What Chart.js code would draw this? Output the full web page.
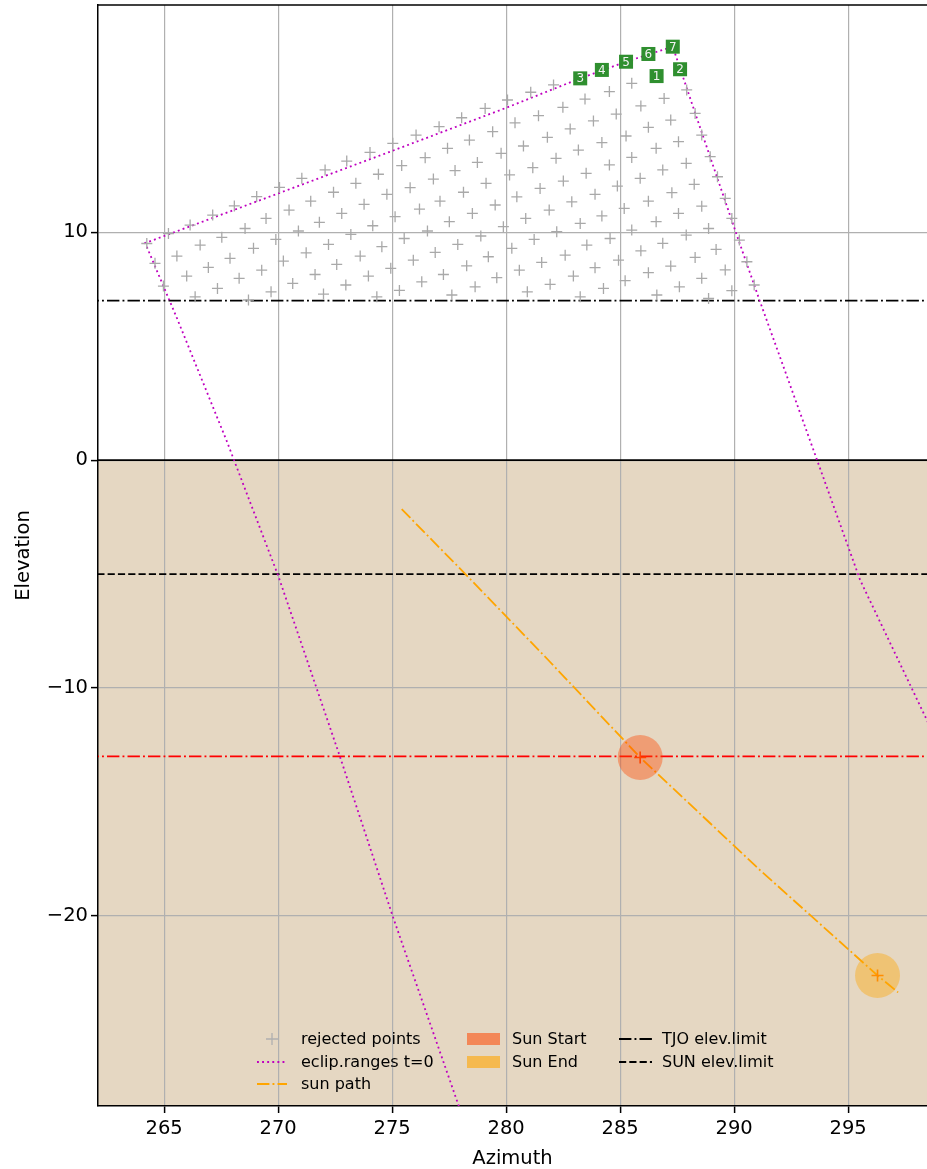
<!DOCTYPE html>
<html>
<head>
<meta charset="utf-8">
<script src="https://cdn.jsdelivr.net/npm/chart.js@4.4.0/dist/chart.umd.min.js"></script>
<style>
html, body { margin: 0; padding: 0; background: #fff; overflow: hidden; }
#wrap { position: relative; width: 927px; height: 1169px; }
#legend { position: absolute; left: 0; top: 0; font-family: 'DejaVu Sans'; font-size: 16px; color: #000; }
#legend .t { position: absolute; height: 20px; line-height: 20px; white-space: nowrap; }
#legend svg, #legend .p { position: absolute; }
</style>
</head>
<body>
<div id="wrap">
<canvas id="sky" width="927" height="1169"></canvas>
<div id="legend">
  <svg style="left:256px;top:1032px" width="32" height="14"><path d="M16 1V13M10 7H22" stroke="#b0b0b0" stroke-width="1.3" fill="none"/></svg>
  <div class="t" style="left:301px;top:1029px">rejected points</div>
  <svg style="left:256px;top:1055px" width="32" height="14"><line x1="1" y1="7" x2="31" y2="7" stroke="#bf00bf" stroke-width="1.8" stroke-dasharray="1.9 3.2"/></svg>
  <div class="t" style="left:301px;top:1052px">eclip.ranges t=0</div>
  <svg style="left:256px;top:1077px" width="32" height="14"><line x1="1" y1="7" x2="31" y2="7" stroke="orange" stroke-width="1.8" stroke-dasharray="12.4 3.1 1.9 3.1"/></svg>
  <div class="t" style="left:301px;top:1074px">sun path</div>

  <div class="p" style="left:467px;top:1033px;width:33px;height:12px;background:rgba(255,69,0,0.55)"></div>
  <div class="t" style="left:512px;top:1029px">Sun Start</div>
  <div class="p" style="left:467px;top:1056px;width:33px;height:12px;background:rgba(255,165,0,0.6)"></div>
  <div class="t" style="left:512px;top:1052px">Sun End</div>

  <svg style="left:619px;top:1032px" width="33" height="14"><line x1="0" y1="7" x2="33" y2="7" stroke="#000" stroke-width="1.8" stroke-dasharray="12.4 3.1 1.9 3.1"/></svg>
  <div class="t" style="left:662px;top:1029px">TJO elev.limit</div>
  <svg style="left:619px;top:1055px" width="33" height="14"><line x1="0" y1="7" x2="33" y2="7" stroke="#000" stroke-width="1.8" stroke-dasharray="7.2 3.1"/></svg>
  <div class="t" style="left:662px;top:1052px">SUN elev.limit</div>
</div>
</div>
<script>
// axis limits
const azMin = 262.1, azMax = 298.46;
const elMin = -28.35, elMax = 19.98;

// elevation limits
const horizonEl = 0;
const tjoLimit = 7;
const sunLimit = -5;
const sunStartLine = -13;

// rejected points (azimuth, elevation)
const rejAz = [
  264.24,265.19,266.14,267.13,268.08,269.06,270.06,271.04,272.06,273.01,
  264.60,265.56,266.58,267.53,268.55,269.47,270.48,271.43,272.43,273.41,
  264.97,265.99,266.94,267.89,268.92,269.90,270.89,271.81,272.79,273.77,
  266.36,267.34,268.29,269.28,270.23,271.23,272.21,273.19,
  268.70,269.69,270.64,271.62,272.57,273.60,
  271.99,272.97,273.96,
  274.03,275.03,276.05,277.06,278.05,279.08,280.06,281.08,282.08,
  274.40,275.42,276.45,277.43,278.39,279.41,280.39,281.42,282.49,283.46,
  274.77,275.79,276.81,277.76,278.74,279.78,280.76,281.81,282.81,
  274.15,275.13,276.20,277.10,278.13,279.12,280.15,281.17,282.19,283.17,
  274.55,275.53,276.55,277.51,278.52,279.52,280.47,281.49,282.51,283.51,
  274.94,275.93,276.89,277.88,278.89,279.88,280.86,281.89,282.88,
  274.33,275.32,276.30,277.25,278.27,279.22,280.25,281.23,282.22,283.25,
  277.62,278.64,279.59,280.58,281.56,282.59,283.54,
  280.93,281.93,282.95,
  283.25,
  284.53,285.51,285.91,286.93,283.83,284.83,286.24,287.22,284.20,285.26,
  286.58,287.56,284.53,285.51,286.87,287.90,283.90,284.88,285.88,287.27,
  288.25,284.20,285.18,286.24,287.56,288.58,284.56,285.51,286.58,287.90,
  288.88,284.93,285.91,286.87,288.29,289.21,283.90,285.22,286.24,287.22,
  288.58,289.61,284.27,286.61,287.60,288.88,289.90,
  287.92,288.29,288.58,288.95,289.27,289.61,289.90,290.23,290.56,290.88
];
const rejEl = [
  9.51,9.95,10.32,10.76,11.16,11.57,11.97,12.37,12.74,13.13,
  8.64,8.96,9.44,9.78,10.17,10.61,10.98,11.37,11.76,12.15,
  7.64,8.08,8.46,8.86,9.30,9.69,10.06,10.44,10.83,11.23,
  7.17,7.54,7.98,8.34,8.74,9.10,9.47,9.91,
  7.03,7.39,7.76,8.15,8.59,8.96,
  7.29,7.69,8.08,
  13.51,13.91,14.27,14.64,15.03,15.44,15.81,16.15,16.47,
  12.55,12.93,13.28,13.69,14.05,14.42,14.81,15.12,15.49,15.85,
  11.67,11.96,12.34,12.71,13.07,13.47,13.79,14.17,14.54,
  10.29,10.69,11.02,11.37,11.76,12.15,12.52,12.84,13.25,13.61,
  9.37,9.73,10.06,10.47,10.83,11.20,11.56,11.93,12.25,12.59,
  8.42,8.78,9.12,9.47,9.84,10.25,10.61,10.98,11.34,
  7.17,7.45,7.83,8.15,8.53,8.93,9.30,9.69,10.03,10.39,
  7.25,7.61,8.01,8.34,8.68,9.00,9.44,
  7.39,7.72,8.08,
  7.17,
  16.18,16.54,15.55,15.88,14.89,15.19,14.61,14.93,13.94,14.23,
  13.69,13.98,12.96,13.29,12.74,13.03,11.67,12.03,12.37,11.74,
  12.11,10.72,11.05,11.37,10.83,11.15,9.73,10.10,10.47,9.88,
  10.17,8.78,9.19,9.52,8.90,9.25,8.45,7.88,8.23,8.52,
  7.98,8.35,7.54,7.25,7.61,7.10,7.44,
  16.25,15.22,14.27,13.32,12.44,11.49,10.61,9.66,8.71,7.69
];

// ecliptic range outline at t=0
const eclipAz = [278.15, 275.03, 272.72, 270.01, 267.75, 265.56, 264.17,
                 270.01, 274.99, 279.96, 283.25, 285.26, 287.31,
                 288.29, 290.09, 291.14, 293.64, 295.53, 298.46, 300.0];
const eclipEl = [-29.0, -20.03, -13.04, -5.09, 0.83, 6.24, 9.53,
                 11.71, 13.57, 15.45, 16.76, 17.49, 18.15,
                 15.24, 9.96, 6.95, 0.0, -5.27, -11.42, -14.6];

// sun path
const sunPathAz = [275.42, 278.35, 281.93, 285.88, 291.14, 296.29, 297.19];
const sunPathEl = [-2.15, -5.14, -8.86, -13.05, -18.0, -22.62, -23.36];
const sunAz = [285.88, 296.29];   // start, end
const sunEl = [-13.05, -22.62];

// numbered candidate targets
const candNum = ['1', '2', '3', '4', '5', '6', '7'];
const candAz = [286.60, 287.63, 283.25, 284.20, 285.26, 286.24, 287.31];
const candEl = [16.86, 17.16, 16.76, 17.13, 17.49, 17.83, 18.15];

const FONT = 'DejaVu Sans';
const DASHDOT = [12.4, 3.1, 1.9, 3.1];

function pts(xs, ys) {
    return xs.map((x, i) => ({x: x, y: ys[i]}));
}
function hline(el) {
    return [{x: azMin - 5, y: el}, {x: azMax + 5, y: el}];
}
function lineSet(label, data, color, dash, order) {
    return {
        label: label, data: data, showLine: true, pointRadius: 0,
        borderColor: color, borderWidth: 1.8, borderDash: dash,
        borderCapStyle: 'butt', order: order
    };
}

const groundPlugin = {
    id: 'ground',
    beforeDraw(chart) {
        const {ctx, chartArea: a, scales: {y}} = chart;
        ctx.save();
        ctx.fillStyle = '#ffffff';
        ctx.fillRect(0, 0, chart.width, chart.height);
        const y0 = y.getPixelForValue(horizonEl);
        ctx.fillStyle = '#e5d7c2';
        ctx.fillRect(a.left, y0, a.right - a.left, a.bottom - y0);
        ctx.restore();
    }
};

const labelPlugin = {
    id: 'candLabels',
    afterDatasetsDraw(chart) {
        const {ctx, chartArea: a, scales: {x, y}} = chart;
        ctx.save();
        ctx.font = '12px "' + FONT + '"';
        ctx.textAlign = 'center';
        ctx.textBaseline = 'middle';
        candNum.forEach((n, i) => {
            const px = x.getPixelForValue(candAz[i]);
            const py = y.getPixelForValue(candEl[i]);
            ctx.fillStyle = '#2f8f2f';
            ctx.fillRect(px - 7, py - 7, 14, 14);
            ctx.fillStyle = '#f2f2f2';
            ctx.fillText(n, px, py + 1);
        });
        // top spine
        ctx.strokeStyle = '#000';
        ctx.lineWidth = 1.5;
        ctx.beginPath();
        ctx.moveTo(a.left, a.top);
        ctx.lineTo(a.right, a.top);
        ctx.stroke();
        ctx.restore();
    }
};

const tickFmt = v => String(v).replace('-', '\u2212');

new Chart(document.getElementById('sky'), {
    type: 'scatter',
    data: {
        datasets: [
            {
                label: 'sun cross', data: pts(sunAz, sunEl), pointStyle: 'cross',
                pointRadius: 6, borderWidth: 1.6,
                borderColor: ['orangered', 'darkorange'], order: 0
            },
            {
                label: 'Sun Start', data: pts(sunAz.slice(0, 1), sunEl.slice(0, 1)),
                pointRadius: 22.5, borderWidth: 0, backgroundColor: 'rgba(255,69,0,0.4)', order: 1
            },
            {
                label: 'Sun End', data: pts(sunAz.slice(1), sunEl.slice(1)),
                pointRadius: 22.5, borderWidth: 0, backgroundColor: 'rgba(255,165,0,0.4)', order: 1
            },
            lineSet('sun path', pts(sunPathAz, sunPathEl), 'orange', DASHDOT, 2),
            {
                label: 'rejected points', data: pts(rejAz, rejEl), pointStyle: 'cross',
                pointRadius: 5.5, borderWidth: 1.3, borderColor: '#a9a9a9', order: 3
            },
            lineSet('eclip.ranges t=0', pts(eclipAz, eclipEl), '#bf00bf', [1.9, 3.2], 4),
            lineSet('sun start elev', hline(sunStartLine), '#ff0000', DASHDOT, 5),
            lineSet('TJO elev.limit', hline(tjoLimit), '#000', DASHDOT, 6),
            lineSet('SUN elev.limit', hline(sunLimit), '#000', [7.2, 3.1], 6),
            lineSet('horizon', hline(horizonEl), '#000', [], 7)
        ]
    },
    options: {
        responsive: false,
        animation: false,
        layout: {autoPadding: false, padding: {top: 5, left: 0, right: 0, bottom: 0}},
        plugins: {legend: {display: false}, tooltip: {enabled: false}},
        scales: {
            x: {
                type: 'linear', min: azMin, max: azMax,
                afterFit: s => { s.height = 63; s.paddingLeft = 0; s.paddingRight = 0; },
                ticks: {stepSize: 5, includeBounds: false, maxRotation: 0, padding: 4,
                        color: '#000', font: {family: FONT, size: 19.5}, callback: tickFmt},
                grid: {color: '#b0b0b0', lineWidth: 1.2, tickLength: 7, tickColor: '#000', tickWidth: 1.5},
                border: {color: '#000', width: 1.5},
                title: {display: true, text: 'Azimuth', color: '#000',
                        font: {family: FONT, size: 19.5}, padding: {top: 0, bottom: -2}}
            },
            y: {
                type: 'linear', min: elMin, max: elMax,
                afterFit: s => { s.width = 98; s.paddingTop = 0; s.paddingBottom = 0; },
                ticks: {stepSize: 10, includeBounds: false, padding: 3,
                        color: '#000', font: {family: FONT, size: 19.5}, callback: tickFmt},
                grid: {color: '#b0b0b0', lineWidth: 1.2, tickLength: 7, tickColor: '#000', tickWidth: 1.5},
                border: {color: '#000', width: 1.5},
                title: {display: true, text: 'Elevation', color: '#000',
                        font: {family: FONT, size: 19.5}, padding: {top: 12, bottom: 0}}
            }
        }
    },
    plugins: [groundPlugin, labelPlugin]
});
</script>
</body>
</html>
